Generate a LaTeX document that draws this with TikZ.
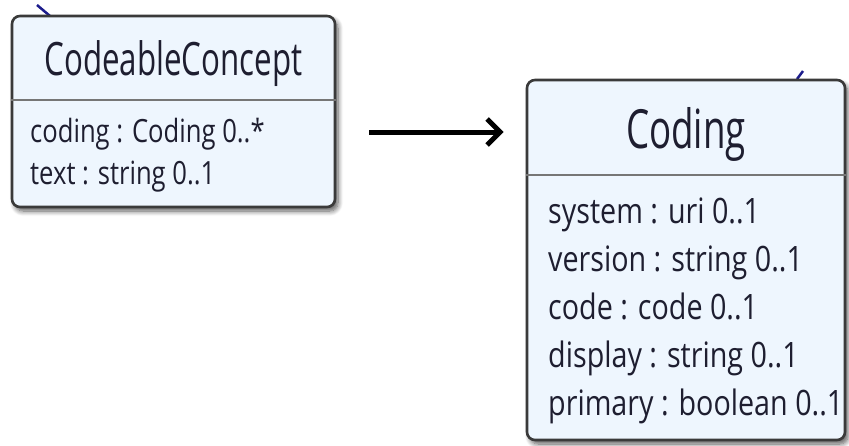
\documentclass[tikz,border=0pt]{standalone}
\usepackage{fontspec}
\usetikzlibrary{arrows.meta,shadows.blur}
\newfontfamily\titlefont[FakeStretch=0.68]{Open Sans}
\newfontfamily\bodyfont[FakeStretch=0.80]{Open Sans}
\newfontfamily\bigbodyfont[FakeStretch=0.82]{Open Sans}
\definecolor{boxfill}{HTML}{EEF6FE}
\definecolor{boxline}{HTML}{3A3A3A}
\definecolor{sepline}{HTML}{767676}
\definecolor{txt}{HTML}{1E1E30}
\definecolor{assoc}{HTML}{1C1C8C}

\begin{document}
\begin{tikzpicture}[x=1pt,y=-1pt,
  classbox/.style={draw=boxline, line width=2.6pt, fill=boxfill,
    rounded corners=8pt, inner sep=0pt,
    blur shadow={shadow xshift=3pt, shadow yshift=-4pt,
      shadow blur radius=5pt, shadow blur steps=8, shadow opacity=65}},
  divider/.style={draw=sepline, line width=2.6pt},
  ltitle/.style={anchor=base, text=txt, inner sep=0pt,
    font=\titlefont\fontsize{46}{46}\selectfont},
  rtitle/.style={anchor=base, text=txt, inner sep=0pt,
    font=\titlefont\fontsize{54}{54}\selectfont},
  lattr/.style={anchor=base west, text=txt, inner sep=0pt,
    font=\bodyfont\fontsize{32}{32}\selectfont},
  rattr/.style={anchor=base west, text=txt, inner sep=0pt,
    font=\bigbodyfont\fontsize{35}{35}\selectfont},
  link/.style={draw=black, line width=5pt,
    -{Straight Barb[length=13pt,width=26pt]}},
  assocline/.style={draw=assoc, line width=2.5pt}]

\useasboundingbox (0,0) rectangle (849,445);

% association stubs entering the class boxes
\draw[assocline] (37,5) -- (50,16);
\draw[assocline] (797,79) -- (803,71);

% CodeableConcept class
\node[classbox, minimum width=323pt, minimum height=191pt] (cc) at (173.5,111.5) {};
\draw[divider] (cc.west |- 0,100) -- (cc.east |- 0,100);
\node[ltitle] (ccname) at (173.5,75) {CodeableConcept};
\node[lattr] (cca1) at (30,142) {coding : Coding 0..*};
\node[lattr] (cca2) at (30,184) {text : string 0..1};

% Coding class
\node[classbox, minimum width=318pt, minimum height=360pt] (cd) at (686,260) {};
\draw[divider] (cd.west |- 0,175) -- (cd.east |- 0,175);
\node[rtitle] (cdname) at (686,148) {Coding};
\node[rattr] (cda1) at (548,223) {system : uri 0..1};
\node[rattr] (cda2) at (548,271) {version : string 0..1};
\node[rattr] (cda3) at (548,319) {code : code 0..1};
\node[rattr] (cda4) at (548,367) {display : string 0..1};
\node[rattr] (cda5) at (548,415) {primary : boolean 0..1};

% reference from CodeableConcept.coding to Coding
\coordinate (ay) at (0,132);
\draw[link, shorten <=33pt, shorten >=22pt] (cc.east |- ay) -- (cd.west |- ay);
\end{tikzpicture}
\end{document}
